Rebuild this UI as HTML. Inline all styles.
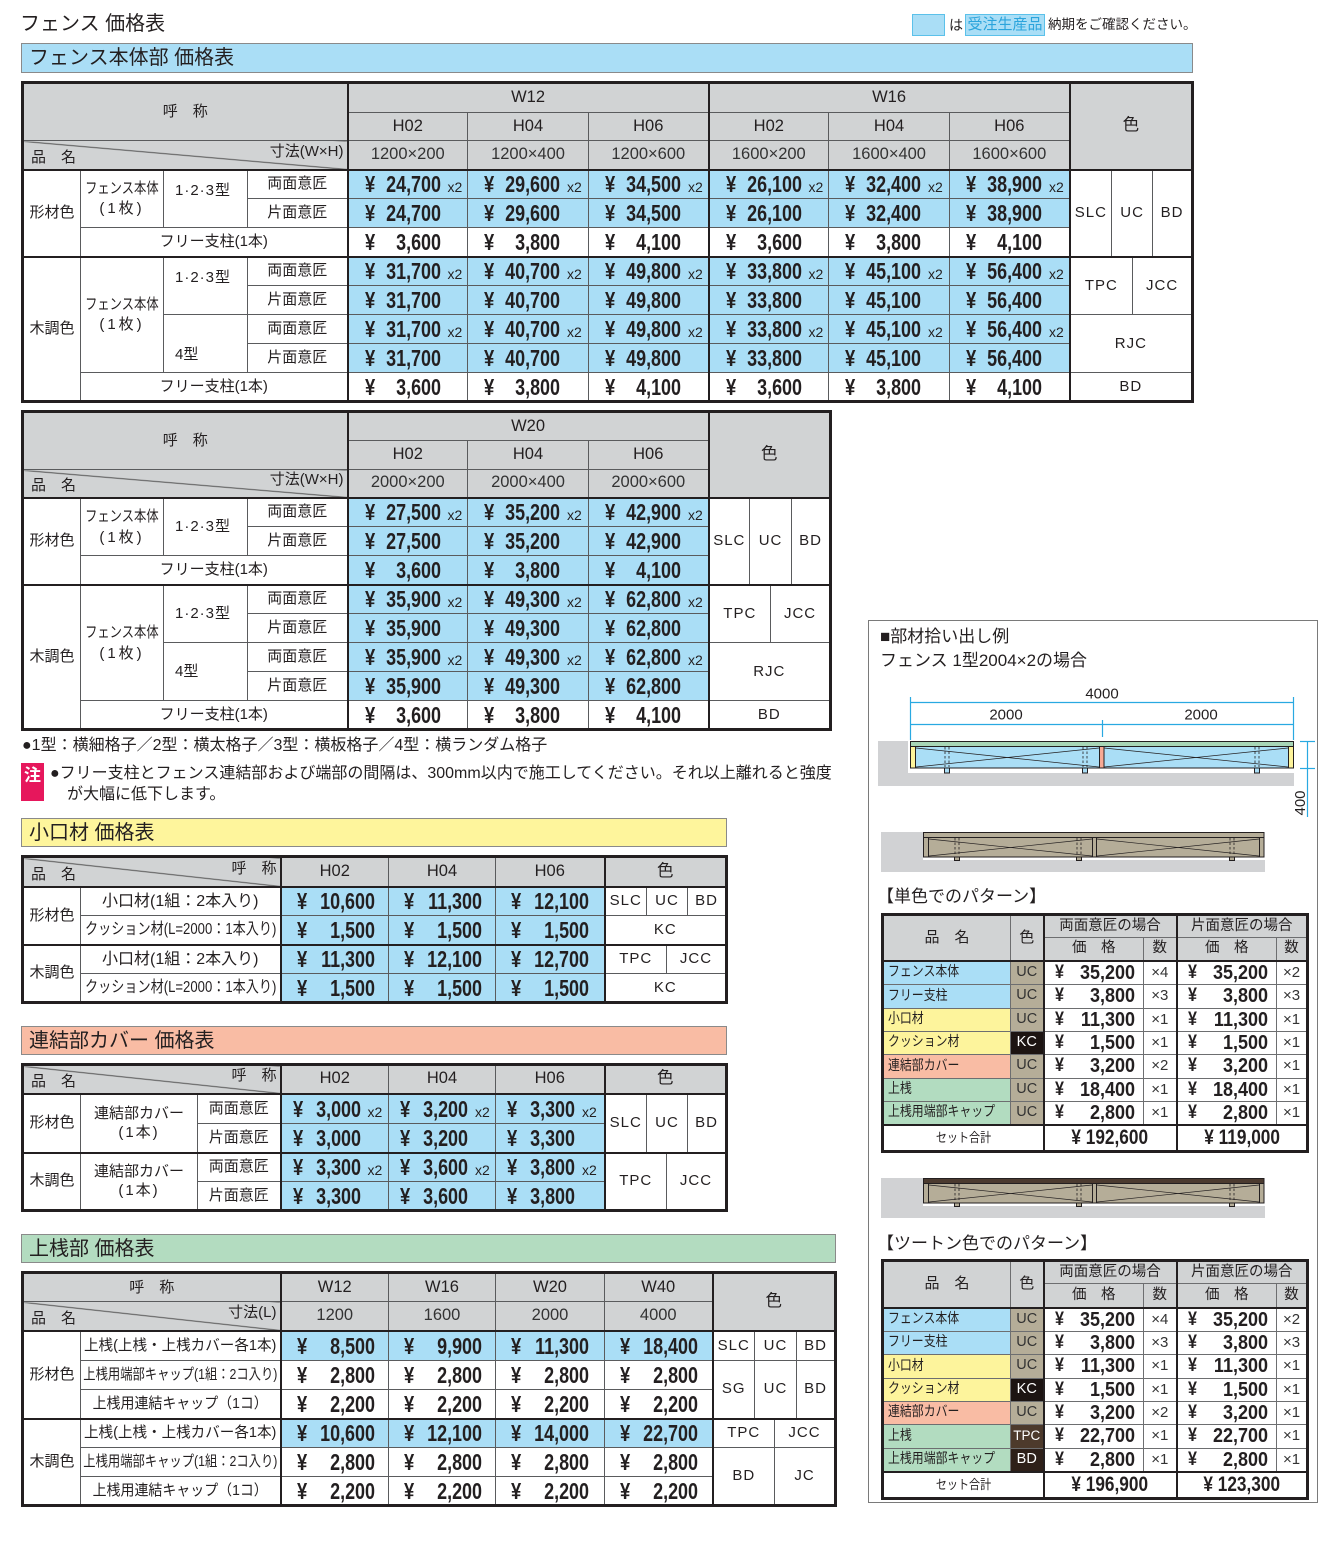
<!DOCTYPE html>
<html><head><meta charset="utf-8">
<style>
body{margin:0;width:1336px;height:1542px;position:relative;overflow:hidden;background:#fff;font-family:"Liberation Sans","Noto Sans CJK JP",sans-serif;color:#231f20}
.a{position:absolute;white-space:nowrap;line-height:1}
.bar{position:absolute;border:1px solid #8a8a8a;font-size:20px;line-height:1;padding-left:7px;box-sizing:border-box;display:flex;align-items:center;white-space:nowrap}
.t{position:absolute;border-collapse:collapse;table-layout:fixed;border:3px solid #231f20}
.t td{border:1px solid #5a5b5d;padding:0;text-align:center;vertical-align:middle;white-space:nowrap;overflow:hidden;font-size:15px;line-height:1.2}
.t td.L2{border-left:2px solid #231f20}
.t tr.T2 td{border-top:2px solid #231f20}
.g{background:#d1d3d4}
.b{background:#aadef6}
.t td.hd{font-size:16.5px}
.t td.dm{font-size:16.5px;color:#333}
.cl{letter-spacing:1px}
.t td.dg{background:linear-gradient(to top right,#d1d3d4 calc(50% - 1px),#555 50%,#d1d3d4 calc(50% + 1px))}
.dgw{position:relative;height:26px}
.dl{position:absolute;left:7px;bottom:3px;line-height:1}
.dr{position:absolute;right:3px;top:2px;line-height:1}
.f{display:flex;justify-content:center}
.f>span{flex:none;display:block}
.pp{position:relative;height:26px}
.pp i,.pp b,.pp u{position:absolute;top:0;font-family:"Liberation Sans",sans-serif;font-style:normal;text-decoration:none;line-height:26px;white-space:nowrap}
.pp i{left:16px;font-weight:bold;font-size:23px;transform:scaleX(.8);transform-origin:0 50%}
.pp b{left:0;width:92px;text-align:right;font-size:23px;transform:scaleX(.78);transform-origin:100% 50%}
.pp u{left:99px;top:3px;font-size:14px}
.s .pp i{left:15px}.s .pp b{width:93px}
.k .pp i{left:11px}.k .pp b{width:79px}.k .pp u{left:86px}
.r td{font-size:14.5px;border-color:#6d6e70}
.r .pp{height:22px}
.r .pp i,.r .pp b{line-height:22px}
.r .pp i{left:10px;font-size:19px;transform:scaleX(.85)}
.r .pp b{width:90px;font-size:20px;transform:scaleX(.9)}
.r td.lb{text-align:left;padding-left:4px}
.r td.q{font-size:15px;color:#333}
.cz{display:inline-block;font-size:14px;transform:scaleX(.85);transform-origin:0 50%}
.tot{font:bold 21px "Liberation Sans",sans-serif;transform:scaleX(.82)}
.cb{background:#aadef6}.cy{background:#fdf49c}.cs{background:#f9bca4}.cg{background:#b2dcc0}
.uc{background:#b5ad98;color:#333}.kc{background:#1c1412;color:#fff}.tpc{background:#4d3a2c;color:#fff}.bdk{background:#2e2019;color:#fff}
.lt{text-align:left!important;padding-left:11px!important}
.dot{letter-spacing:1px}
</style></head><body>

<div class="a" style="left:20px;top:14px;font-size:20px">フェンス 価格表</div>
<div class="a" style="left:912px;top:14px;width:33px;height:22px;background:#aadef6;border:1px solid #5bc1ea;box-sizing:border-box"></div>
<div class="a" style="left:949px;top:18px;font-size:14px">は</div>
<div class="a" style="left:965px;top:14px;width:80px;height:22px;background:#aadef6;border:1px solid #5bc1ea;box-sizing:border-box;color:#2ba4dc;font-size:15px;line-height:20px;text-align:center">受注生産品</div>
<div class="a" style="left:1048px;top:18px;font-size:13.5px">納期をご確認ください。</div>

<div class="bar" style="left:21px;top:43px;width:1172px;height:30px;background:#aadef6">フェンス本体部 価格表</div>

<!-- TABLE 1 -->
<table class="t" style="left:21px;top:81px;width:1170px">
<colgroup><col style="width:58px"><col style="width:83px"><col style="width:84px"><col style="width:100px"><col style="width:120px"><col style="width:121px"><col style="width:120px"><col style="width:120px"><col style="width:121px"><col style="width:120px"><col style="width:42px"><col style="width:21px"><col style="width:20px"><col style="width:40px"></colgroup>
<tr style="height:30px"><td colspan="4" rowspan="2" class="g">呼　称</td><td colspan="3" class="g L2 hd">W12</td><td colspan="3" class="g L2 hd">W16</td><td colspan="4" rowspan="3" class="g L2 hd">色</td></tr>
<tr style="height:28px"><td class="g L2 hd">H02</td><td class="g hd">H04</td><td class="g hd">H06</td><td class="g L2 hd">H02</td><td class="g hd">H04</td><td class="g hd">H06</td></tr>
<tr style="height:29px"><td colspan="4" class="dg"><div class="dgw"><span class="dl">品　名</span><span class="dr">寸法(W×H)</span></div></td><td class="g L2 dm">1200×200</td><td class="g dm">1200×400</td><td class="g dm">1200×600</td><td class="g L2 dm">1600×200</td><td class="g dm">1600×400</td><td class="g dm">1600×600</td></tr>
<tr class="T2" style="height:29px"><td rowspan="3">形材色</td><td rowspan="2" style="line-height:20px"><div class="f"><span style="transform:scaleX(.82)">フェンス本体</span></div><span style="letter-spacing:3px">(1枚)</span></td><td rowspan="2" class="lt dot" style="padding-bottom:16px">1·2·3型</td><td>両面意匠</td>
<td class="b L2"><div class="pp"><i>¥</i><b>24,700</b><u>x2</u></div></td><td class="b"><div class="pp"><i>¥</i><b>29,600</b><u>x2</u></div></td><td class="b"><div class="pp"><i>¥</i><b>34,500</b><u>x2</u></div></td><td class="b L2"><div class="pp"><i>¥</i><b>26,100</b><u>x2</u></div></td><td class="b"><div class="pp"><i>¥</i><b>32,400</b><u>x2</u></div></td><td class="b"><div class="pp"><i>¥</i><b>38,900</b><u>x2</u></div></td>
<td rowspan="3" class="L2 cl">SLC</td><td rowspan="3" colspan="2" class="cl">UC</td><td rowspan="3" class="cl">BD</td></tr>
<tr style="height:29px"><td>片面意匠</td>
<td class="b L2"><div class="pp"><i>¥</i><b>24,700</b></div></td><td class="b"><div class="pp"><i>¥</i><b>29,600</b></div></td><td class="b"><div class="pp"><i>¥</i><b>34,500</b></div></td><td class="b L2"><div class="pp"><i>¥</i><b>26,100</b></div></td><td class="b"><div class="pp"><i>¥</i><b>32,400</b></div></td><td class="b"><div class="pp"><i>¥</i><b>38,900</b></div></td></tr>
<tr style="height:29px"><td colspan="3">フリー支柱(1本)</td>
<td class="L2"><div class="pp"><i>¥</i><b>3,600</b></div></td><td><div class="pp"><i>¥</i><b>3,800</b></div></td><td><div class="pp"><i>¥</i><b>4,100</b></div></td><td class="L2"><div class="pp"><i>¥</i><b>3,600</b></div></td><td><div class="pp"><i>¥</i><b>3,800</b></div></td><td><div class="pp"><i>¥</i><b>4,100</b></div></td></tr>
<tr class="T2" style="height:29px"><td rowspan="5">木調色</td><td rowspan="4" style="line-height:20px"><div class="f"><span style="transform:scaleX(.82)">フェンス本体</span></div><span style="letter-spacing:3px">(1枚)</span></td><td rowspan="2" class="lt dot" style="padding-bottom:16px">1·2·3型</td><td>両面意匠</td>
<td class="b L2"><div class="pp"><i>¥</i><b>31,700</b><u>x2</u></div></td><td class="b"><div class="pp"><i>¥</i><b>40,700</b><u>x2</u></div></td><td class="b"><div class="pp"><i>¥</i><b>49,800</b><u>x2</u></div></td><td class="b L2"><div class="pp"><i>¥</i><b>33,800</b><u>x2</u></div></td><td class="b"><div class="pp"><i>¥</i><b>45,100</b><u>x2</u></div></td><td class="b"><div class="pp"><i>¥</i><b>56,400</b><u>x2</u></div></td>
<td rowspan="2" colspan="2" class="L2 cl">TPC</td><td rowspan="2" colspan="2" class="cl">JCC</td></tr>
<tr style="height:29px"><td>片面意匠</td>
<td class="b L2"><div class="pp"><i>¥</i><b>31,700</b></div></td><td class="b"><div class="pp"><i>¥</i><b>40,700</b></div></td><td class="b"><div class="pp"><i>¥</i><b>49,800</b></div></td><td class="b L2"><div class="pp"><i>¥</i><b>33,800</b></div></td><td class="b"><div class="pp"><i>¥</i><b>45,100</b></div></td><td class="b"><div class="pp"><i>¥</i><b>56,400</b></div></td></tr>
<tr style="height:29px"><td rowspan="2" class="lt" style="padding-top:22px">4型</td><td>両面意匠</td>
<td class="b L2"><div class="pp"><i>¥</i><b>31,700</b><u>x2</u></div></td><td class="b"><div class="pp"><i>¥</i><b>40,700</b><u>x2</u></div></td><td class="b"><div class="pp"><i>¥</i><b>49,800</b><u>x2</u></div></td><td class="b L2"><div class="pp"><i>¥</i><b>33,800</b><u>x2</u></div></td><td class="b"><div class="pp"><i>¥</i><b>45,100</b><u>x2</u></div></td><td class="b"><div class="pp"><i>¥</i><b>56,400</b><u>x2</u></div></td>
<td rowspan="2" colspan="4" class="L2 cl">RJC</td></tr>
<tr style="height:29px"><td>片面意匠</td>
<td class="b L2"><div class="pp"><i>¥</i><b>31,700</b></div></td><td class="b"><div class="pp"><i>¥</i><b>40,700</b></div></td><td class="b"><div class="pp"><i>¥</i><b>49,800</b></div></td><td class="b L2"><div class="pp"><i>¥</i><b>33,800</b></div></td><td class="b"><div class="pp"><i>¥</i><b>45,100</b></div></td><td class="b"><div class="pp"><i>¥</i><b>56,400</b></div></td></tr>
<tr style="height:29px"><td colspan="3">フリー支柱(1本)</td>
<td class="L2"><div class="pp"><i>¥</i><b>3,600</b></div></td><td><div class="pp"><i>¥</i><b>3,800</b></div></td><td><div class="pp"><i>¥</i><b>4,100</b></div></td><td class="L2"><div class="pp"><i>¥</i><b>3,600</b></div></td><td><div class="pp"><i>¥</i><b>3,800</b></div></td><td><div class="pp"><i>¥</i><b>4,100</b></div></td>
<td colspan="4" class="L2 cl">BD</td></tr>
</table>

<!-- TABLE 2 -->
<table class="t" style="left:21px;top:410px;width:808px">
<colgroup><col style="width:58px"><col style="width:83px"><col style="width:84px"><col style="width:100px"><col style="width:120px"><col style="width:121px"><col style="width:120px"><col style="width:41px"><col style="width:21px"><col style="width:21px"><col style="width:39px"></colgroup>
<tr style="height:29px"><td colspan="4" rowspan="2" class="g">呼　称</td><td colspan="3" class="g L2 hd">W20</td><td colspan="4" rowspan="3" class="g L2 hd">色</td></tr>
<tr style="height:29px"><td class="g L2 hd">H02</td><td class="g hd">H04</td><td class="g hd">H06</td></tr>
<tr style="height:28px"><td colspan="4" class="dg"><div class="dgw"><span class="dl">品　名</span><span class="dr">寸法(W×H)</span></div></td><td class="g L2 dm">2000×200</td><td class="g dm">2000×400</td><td class="g dm">2000×600</td></tr>
<tr class="T2" style="height:29px"><td rowspan="3">形材色</td><td rowspan="2" style="line-height:21px"><div class="f"><span style="transform:scaleX(.82)">フェンス本体</span></div><span style="letter-spacing:3px">(1枚)</span></td><td rowspan="2" class="lt dot">1·2·3型</td><td>両面意匠</td>
<td class="b L2"><div class="pp"><i>¥</i><b>27,500</b><u>x2</u></div></td><td class="b"><div class="pp"><i>¥</i><b>35,200</b><u>x2</u></div></td><td class="b"><div class="pp"><i>¥</i><b>42,900</b><u>x2</u></div></td>
<td rowspan="3" class="L2 cl">SLC</td><td rowspan="3" colspan="2" class="cl">UC</td><td rowspan="3" class="cl">BD</td></tr>
<tr style="height:29px"><td>片面意匠</td>
<td class="b L2"><div class="pp"><i>¥</i><b>27,500</b></div></td><td class="b"><div class="pp"><i>¥</i><b>35,200</b></div></td><td class="b"><div class="pp"><i>¥</i><b>42,900</b></div></td></tr>
<tr style="height:29px"><td colspan="3">フリー支柱(1本)</td>
<td class="b L2"><div class="pp"><i>¥</i><b>3,600</b></div></td><td class="b"><div class="pp"><i>¥</i><b>3,800</b></div></td><td class="b"><div class="pp"><i>¥</i><b>4,100</b></div></td></tr>
<tr class="T2" style="height:29px"><td rowspan="5">木調色</td><td rowspan="4" style="line-height:21px"><div class="f"><span style="transform:scaleX(.82)">フェンス本体</span></div><span style="letter-spacing:3px">(1枚)</span></td><td rowspan="2" class="lt dot">1·2·3型</td><td>両面意匠</td>
<td class="b L2"><div class="pp"><i>¥</i><b>35,900</b><u>x2</u></div></td><td class="b"><div class="pp"><i>¥</i><b>49,300</b><u>x2</u></div></td><td class="b"><div class="pp"><i>¥</i><b>62,800</b><u>x2</u></div></td>
<td rowspan="2" colspan="2" class="L2 cl">TPC</td><td rowspan="2" colspan="2" class="cl">JCC</td></tr>
<tr style="height:29px"><td>片面意匠</td>
<td class="b L2"><div class="pp"><i>¥</i><b>35,900</b></div></td><td class="b"><div class="pp"><i>¥</i><b>49,300</b></div></td><td class="b"><div class="pp"><i>¥</i><b>62,800</b></div></td></tr>
<tr style="height:29px"><td rowspan="2" class="lt">4型</td><td>両面意匠</td>
<td class="b L2"><div class="pp"><i>¥</i><b>35,900</b><u>x2</u></div></td><td class="b"><div class="pp"><i>¥</i><b>49,300</b><u>x2</u></div></td><td class="b"><div class="pp"><i>¥</i><b>62,800</b><u>x2</u></div></td>
<td rowspan="2" colspan="4" class="L2 cl">RJC</td></tr>
<tr style="height:29px"><td>片面意匠</td>
<td class="b L2"><div class="pp"><i>¥</i><b>35,900</b></div></td><td class="b"><div class="pp"><i>¥</i><b>49,300</b></div></td><td class="b"><div class="pp"><i>¥</i><b>62,800</b></div></td></tr>
<tr style="height:29px"><td colspan="3">フリー支柱(1本)</td>
<td class="L2"><div class="pp"><i>¥</i><b>3,600</b></div></td><td><div class="pp"><i>¥</i><b>3,800</b></div></td><td><div class="pp"><i>¥</i><b>4,100</b></div></td>
<td colspan="4" class="L2 cl">BD</td></tr>
</table>

<div class="a" style="left:22px;top:738px;font-size:16px">●1型：横細格子／2型：横太格子／3型：横板格子／4型：横ランダム格子</div>
<div class="a" style="left:21px;top:763px;width:23px;height:38px;background:#e6175c;color:#fff;font-size:17px;font-weight:bold;text-align:center;padding-top:4px;box-sizing:border-box">注</div>
<div class="a" style="left:50px;top:766px;font-size:16px">●フリー支柱とフェンス連結部および端部の間隔は、300mm以内で施工してください。それ以上離れると強度</div>
<div class="a" style="left:67px;top:787px;font-size:16px">が大幅に低下します。</div>

<div class="bar" style="left:21px;top:818px;width:706px;height:29px;background:#fef59c">小口材 価格表</div>

<!-- TABLE 3 -->
<table class="t s" style="left:21px;top:855px;width:704px">
<colgroup><col style="width:58px"><col style="width:200px"><col style="width:108px"><col style="width:107px"><col style="width:109px"><col style="width:42px"><col style="width:20px"><col style="width:21px"><col style="width:39px"></colgroup>
<tr style="height:30px"><td colspan="2" class="dg"><div class="dgw"><span class="dl">品　名</span><span class="dr">呼　称</span></div></td><td class="g L2 hd">H02</td><td class="g hd">H04</td><td class="g hd">H06</td><td colspan="4" class="g L2 hd">色</td></tr>
<tr class="T2" style="height:29px"><td rowspan="2">形材色</td><td style="font-size:16px">小口材(1組：2本入り)</td>
<td class="b L2"><div class="pp"><i>¥</i><b>10,600</b></div></td><td class="b"><div class="pp"><i>¥</i><b>11,300</b></div></td><td class="b"><div class="pp"><i>¥</i><b>12,100</b></div></td>
<td class="L2 cl">SLC</td><td colspan="2" class="cl">UC</td><td class="cl">BD</td></tr>
<tr style="height:29px"><td><div class="f"><span style="font-size:16px;transform:scaleX(.82)">クッション材(L=2000：1本入り)</span></div></td>
<td class="b L2"><div class="pp"><i>¥</i><b>1,500</b></div></td><td class="b"><div class="pp"><i>¥</i><b>1,500</b></div></td><td class="b"><div class="pp"><i>¥</i><b>1,500</b></div></td>
<td colspan="4" class="L2 cl">KC</td></tr>
<tr class="T2" style="height:29px"><td rowspan="2">木調色</td><td style="font-size:16px">小口材(1組：2本入り)</td>
<td class="b L2"><div class="pp"><i>¥</i><b>11,300</b></div></td><td class="b"><div class="pp"><i>¥</i><b>12,100</b></div></td><td class="b"><div class="pp"><i>¥</i><b>12,700</b></div></td>
<td colspan="2" class="L2 cl">TPC</td><td colspan="2" class="cl">JCC</td></tr>
<tr style="height:29px"><td><div class="f"><span style="font-size:16px;transform:scaleX(.82)">クッション材(L=2000：1本入り)</span></div></td>
<td class="b L2"><div class="pp"><i>¥</i><b>1,500</b></div></td><td class="b"><div class="pp"><i>¥</i><b>1,500</b></div></td><td class="b"><div class="pp"><i>¥</i><b>1,500</b></div></td>
<td colspan="4" class="L2 cl">KC</td></tr>
</table>

<div class="bar" style="left:21px;top:1026px;width:706px;height:29px;background:#f9bca4">連結部カバー 価格表</div>

<!-- TABLE 4 -->
<table class="t k" style="left:21px;top:1063px;width:704px">
<colgroup><col style="width:58px"><col style="width:117px"><col style="width:83px"><col style="width:108px"><col style="width:107px"><col style="width:109px"><col style="width:42px"><col style="width:20px"><col style="width:21px"><col style="width:39px"></colgroup>
<tr style="height:29px"><td colspan="3" class="dg"><div class="dgw"><span class="dl">品　名</span><span class="dr">呼　称</span></div></td><td class="g L2 hd">H02</td><td class="g hd">H04</td><td class="g hd">H06</td><td colspan="4" class="g L2 hd">色</td></tr>
<tr class="T2" style="height:30px"><td rowspan="2">形材色</td><td rowspan="2" style="line-height:19px">連結部カバー<br><span style="letter-spacing:2px">(1本)</span></td><td>両面意匠</td>
<td class="b L2"><div class="pp"><i>¥</i><b>3,000</b><u>x2</u></div></td><td class="b"><div class="pp"><i>¥</i><b>3,200</b><u>x2</u></div></td><td class="b"><div class="pp"><i>¥</i><b>3,300</b><u>x2</u></div></td>
<td rowspan="2" class="L2 cl">SLC</td><td rowspan="2" colspan="2" class="cl">UC</td><td rowspan="2" class="cl">BD</td></tr>
<tr style="height:29px"><td>片面意匠</td>
<td class="b L2"><div class="pp"><i>¥</i><b>3,000</b></div></td><td class="b"><div class="pp"><i>¥</i><b>3,200</b></div></td><td class="b"><div class="pp"><i>¥</i><b>3,300</b></div></td></tr>
<tr class="T2" style="height:29px"><td rowspan="2">木調色</td><td rowspan="2" style="line-height:19px">連結部カバー<br><span style="letter-spacing:2px">(1本)</span></td><td>両面意匠</td>
<td class="b L2"><div class="pp"><i>¥</i><b>3,300</b><u>x2</u></div></td><td class="b"><div class="pp"><i>¥</i><b>3,600</b><u>x2</u></div></td><td class="b"><div class="pp"><i>¥</i><b>3,800</b><u>x2</u></div></td>
<td rowspan="2" colspan="2" class="L2 cl">TPC</td><td rowspan="2" colspan="2" class="cl">JCC</td></tr>
<tr style="height:29px"><td>片面意匠</td>
<td class="b L2"><div class="pp"><i>¥</i><b>3,300</b></div></td><td class="b"><div class="pp"><i>¥</i><b>3,600</b></div></td><td class="b"><div class="pp"><i>¥</i><b>3,800</b></div></td></tr>
</table>

<div class="bar" style="left:21px;top:1234px;width:815px;height:29px;background:#b3dcc0">上桟部 価格表</div>

<!-- TABLE 5 -->
<table class="t s" style="left:21px;top:1271px;width:813px">
<colgroup><col style="width:58px"><col style="width:200px"><col style="width:108px"><col style="width:107px"><col style="width:109px"><col style="width:108px"><col style="width:42px"><col style="width:20px"><col style="width:22px"><col style="width:39px"></colgroup>
<tr style="height:29px"><td colspan="2" class="g">呼　称</td><td class="g L2 hd">W12</td><td class="g hd">W16</td><td class="g hd">W20</td><td class="g hd">W40</td><td colspan="4" rowspan="2" class="g L2 hd">色</td></tr>
<tr style="height:29px"><td colspan="2" class="dg"><div class="dgw"><span class="dl">品　名</span><span class="dr">寸法(L)</span></div></td><td class="g L2 dm">1200</td><td class="g dm">1600</td><td class="g dm">2000</td><td class="g dm">4000</td></tr>
<tr class="T2" style="height:30px"><td rowspan="3">形材色</td><td><div class="f"><span style="transform:scaleX(.97)">上桟(上桟・上桟カバー各1本)</span></div></td>
<td class="b L2"><div class="pp"><i>¥</i><b>8,500</b></div></td><td class="b"><div class="pp"><i>¥</i><b>9,900</b></div></td><td class="b"><div class="pp"><i>¥</i><b>11,300</b></div></td><td class="b"><div class="pp"><i>¥</i><b>18,400</b></div></td>
<td class="L2 cl">SLC</td><td colspan="2" class="cl">UC</td><td class="cl">BD</td></tr>
<tr style="height:29px"><td><div class="f"><span style="transform:scaleX(.82)">上桟用端部キャップ(1組：2コ入り)</span></div></td>
<td class="L2"><div class="pp"><i>¥</i><b>2,800</b></div></td><td><div class="pp"><i>¥</i><b>2,800</b></div></td><td><div class="pp"><i>¥</i><b>2,800</b></div></td><td><div class="pp"><i>¥</i><b>2,800</b></div></td>
<td rowspan="2" class="L2 cl">SG</td><td rowspan="2" colspan="2" class="cl">UC</td><td rowspan="2" class="cl">BD</td></tr>
<tr style="height:29px"><td><div class="f"><span style="transform:scaleX(.93)">上桟用連結キャップ（1コ）</span></div></td>
<td class="L2"><div class="pp"><i>¥</i><b>2,200</b></div></td><td><div class="pp"><i>¥</i><b>2,200</b></div></td><td><div class="pp"><i>¥</i><b>2,200</b></div></td><td><div class="pp"><i>¥</i><b>2,200</b></div></td></tr>
<tr class="T2" style="height:29px"><td rowspan="3">木調色</td><td><div class="f"><span style="transform:scaleX(.97)">上桟(上桟・上桟カバー各1本)</span></div></td>
<td class="b L2"><div class="pp"><i>¥</i><b>10,600</b></div></td><td class="b"><div class="pp"><i>¥</i><b>12,100</b></div></td><td class="b"><div class="pp"><i>¥</i><b>14,000</b></div></td><td class="b"><div class="pp"><i>¥</i><b>22,700</b></div></td>
<td colspan="2" class="L2 cl">TPC</td><td colspan="2" class="cl">JCC</td></tr>
<tr style="height:29px"><td><div class="f"><span style="transform:scaleX(.82)">上桟用端部キャップ(1組：2コ入り)</span></div></td>
<td class="L2"><div class="pp"><i>¥</i><b>2,800</b></div></td><td><div class="pp"><i>¥</i><b>2,800</b></div></td><td><div class="pp"><i>¥</i><b>2,800</b></div></td><td><div class="pp"><i>¥</i><b>2,800</b></div></td>
<td rowspan="2" colspan="2" class="L2 cl">BD</td><td rowspan="2" colspan="2" class="cl">JC</td></tr>
<tr style="height:29px"><td><div class="f"><span style="transform:scaleX(.93)">上桟用連結キャップ（1コ）</span></div></td>
<td class="L2"><div class="pp"><i>¥</i><b>2,200</b></div></td><td><div class="pp"><i>¥</i><b>2,200</b></div></td><td><div class="pp"><i>¥</i><b>2,200</b></div></td><td><div class="pp"><i>¥</i><b>2,200</b></div></td></tr>
</table>

<!-- RIGHT PANEL -->
<div class="a" style="left:868px;top:620px;width:450px;height:883px;border:1px solid #7a7a7a;box-sizing:border-box"></div>
<div class="a" style="left:880px;top:628px;font-size:17px">■部材拾い出し例</div>
<div class="a" style="left:880px;top:652px;font-size:17px">フェンス 1型2004×2の場合</div>

<svg style="position:absolute;left:869px;top:620px" width="449" height="884" viewBox="869 620 449 884" font-family="Liberation Sans, sans-serif">
<g stroke="#29a9e1" stroke-width="1.2" fill="none">
<line x1="910" y1="702.5" x2="1294" y2="702.5"/>
<line x1="910" y1="724.5" x2="1294" y2="724.5"/>
<line x1="910.5" y1="697" x2="910.5" y2="740"/>
<line x1="1293.5" y1="697" x2="1293.5" y2="740"/>
<line x1="1102.5" y1="720" x2="1102.5" y2="737"/>
<line x1="1307.5" y1="741" x2="1307.5" y2="817"/>
<line x1="1300" y1="741.5" x2="1315" y2="741.5"/>
<line x1="1300" y1="768.5" x2="1315" y2="768.5"/>
</g>
<g font-size="15" fill="#231f20" text-anchor="middle">
<text x="1102" y="698.5">4000</text>
<text x="1006" y="719.5">2000</text>
<text x="1201" y="719.5">2000</text>
<text transform="translate(1305,803) rotate(-90)">400</text>
</g>
<rect x="878" y="741" width="416" height="45" fill="#d1d2d4"/>
<rect x="908" y="741" width="386" height="32" fill="#fff"/>
<g stroke="#231f20" stroke-width="1">
<rect x="944.5" y="767" width="5" height="6" fill="#aadef6"/>
<rect x="1082.5" y="767" width="5" height="6" fill="#aadef6"/>
<rect x="1254.5" y="767" width="5" height="6" fill="#aadef6"/>
<rect x="910.5" y="746.5" width="383" height="21.5" fill="#aadef6"/>
<rect x="910.5" y="741.5" width="383" height="5" fill="#a8d6b7"/>
<rect x="910.5" y="746.5" width="5" height="21.5" fill="#fdf39a"/>
<rect x="1288.5" y="746.5" width="5" height="21.5" fill="#fdf39a"/>
<rect x="1099.5" y="746.5" width="4.5" height="21.5" fill="#f7a994"/>
</g>
<g stroke="#231f20" stroke-width=".7">
<line x1="916" y1="748" x2="1099" y2="767"/><line x1="916" y1="767" x2="1099" y2="748"/>
<line x1="1104" y1="748" x2="1288" y2="767"/><line x1="1104" y1="767" x2="1288" y2="748"/>
</g>
<g stroke="#231f20" stroke-width=".8" stroke-dasharray="2.5,2">
<line x1="945" y1="747" x2="945" y2="767"/><line x1="949" y1="747" x2="949" y2="767"/>
<line x1="1083" y1="747" x2="1083" y2="767"/><line x1="1087" y1="747" x2="1087" y2="767"/>
<line x1="1255" y1="747" x2="1255" y2="767"/><line x1="1259" y1="747" x2="1259" y2="767"/>
</g>

<rect x="881" y="832" width="384" height="40" fill="#d1d2d4"/>
<rect x="923" y="832" width="342" height="28" fill="#fff"/>
<g stroke="#231f20" stroke-width="1" fill="#b5ad98">
<rect x="954.5" y="856" width="5" height="4.5"/><rect x="1076.5" y="856" width="5" height="4.5"/><rect x="1229.5" y="856" width="5" height="4.5"/>
<rect x="923.5" y="832.5" width="340.5" height="24.5"/>
<line x1="923.5" y1="837.5" x2="1264" y2="837.5"/>
<line x1="928.5" y1="837.5" x2="928.5" y2="857"/><line x1="1092.5" y1="837.5" x2="1092.5" y2="857"/>
<line x1="1096.5" y1="837.5" x2="1096.5" y2="857"/><line x1="1259.5" y1="837.5" x2="1259.5" y2="857"/>
</g>
<g stroke="#231f20" stroke-width=".7">
<line x1="929" y1="839" x2="1092" y2="856"/><line x1="929" y1="856" x2="1092" y2="839"/>
<line x1="1097" y1="839" x2="1259" y2="856"/><line x1="1097" y1="856" x2="1259" y2="839"/>
</g>
<g stroke="#231f20" stroke-width=".8" stroke-dasharray="2.5,2">
<line x1="955" y1="838" x2="955" y2="856"/><line x1="959" y1="838" x2="959" y2="856"/>
<line x1="1077" y1="838" x2="1077" y2="856"/><line x1="1081" y1="838" x2="1081" y2="856"/>
<line x1="1230" y1="838" x2="1230" y2="856"/><line x1="1234" y1="838" x2="1234" y2="856"/>
</g>

<rect x="881" y="1178" width="384" height="40" fill="#d1d2d4"/>
<rect x="923" y="1178" width="342" height="28" fill="#fff"/>
<g stroke="#231f20" stroke-width="1" fill="#b5ad98">
<rect x="954.5" y="1202" width="5" height="4.5"/><rect x="1076.5" y="1202" width="5" height="4.5"/><rect x="1229.5" y="1202" width="5" height="4.5"/>
<rect x="923.5" y="1178.5" width="340.5" height="24.5"/>
<rect x="923.5" y="1178.5" width="340.5" height="5" fill="#4b3a2f"/>
<line x1="928.5" y1="1183.5" x2="928.5" y2="1203"/><line x1="1092.5" y1="1183.5" x2="1092.5" y2="1203"/>
<line x1="1096.5" y1="1183.5" x2="1096.5" y2="1203"/><line x1="1259.5" y1="1183.5" x2="1259.5" y2="1203"/>
</g>
<g stroke="#231f20" stroke-width=".7">
<line x1="929" y1="1185" x2="1092" y2="1202"/><line x1="929" y1="1202" x2="1092" y2="1185"/>
<line x1="1097" y1="1185" x2="1259" y2="1202"/><line x1="1097" y1="1202" x2="1259" y2="1185"/>
</g>
<g stroke="#231f20" stroke-width=".8" stroke-dasharray="2.5,2">
<line x1="955" y1="1184" x2="955" y2="1202"/><line x1="959" y1="1184" x2="959" y2="1202"/>
<line x1="1077" y1="1184" x2="1077" y2="1202"/><line x1="1081" y1="1184" x2="1081" y2="1202"/>
<line x1="1230" y1="1184" x2="1230" y2="1202"/><line x1="1234" y1="1184" x2="1234" y2="1202"/>
</g>
</svg>

<div class="a" style="left:877px;top:888px;font-size:17px">【単色でのパターン】</div>

<table class="t r" style="left:881px;top:913px;width:425px">
<colgroup><col style="width:128px"><col style="width:33px"><col style="width:100px"><col style="width:33px"><col style="width:100px"><col style="width:31px"></colgroup>
<tr style="height:23px"><td rowspan="2" class="g" style="font-size:15px">品　名</td><td rowspan="2" class="g" style="font-size:15px">色</td><td colspan="2" class="g L2">両面意匠の場合</td><td colspan="2" class="g L2">片面意匠の場合</td></tr>
<tr style="height:23px"><td class="g L2">価　格</td><td class="g">数</td><td class="g L2">価　格</td><td class="g">数</td></tr>
<tr class="T2" style="height:23px"><td class="lb cb"><span class="cz">フェンス本体</span></td><td class="uc">UC</td><td class="L2"><div class="pp"><i>¥</i><b>35,200</b></div></td><td class="q">×4</td><td class="L2"><div class="pp"><i>¥</i><b>35,200</b></div></td><td class="q">×2</td></tr>
<tr style="height:24px"><td class="lb cb"><span class="cz">フリー支柱</span></td><td class="uc">UC</td><td class="L2"><div class="pp"><i>¥</i><b>3,800</b></div></td><td class="q">×3</td><td class="L2"><div class="pp"><i>¥</i><b>3,800</b></div></td><td class="q">×3</td></tr>
<tr style="height:23px"><td class="lb cy"><span class="cz">小口材</span></td><td class="uc">UC</td><td class="L2"><div class="pp"><i>¥</i><b>11,300</b></div></td><td class="q">×1</td><td class="L2"><div class="pp"><i>¥</i><b>11,300</b></div></td><td class="q">×1</td></tr>
<tr style="height:23px"><td class="lb cy"><span class="cz">クッション材</span></td><td class="kc">KC</td><td class="L2"><div class="pp"><i>¥</i><b>1,500</b></div></td><td class="q">×1</td><td class="L2"><div class="pp"><i>¥</i><b>1,500</b></div></td><td class="q">×1</td></tr>
<tr style="height:24px"><td class="lb cs"><span class="cz">連結部カバー</span></td><td class="uc">UC</td><td class="L2"><div class="pp"><i>¥</i><b>3,200</b></div></td><td class="q">×2</td><td class="L2"><div class="pp"><i>¥</i><b>3,200</b></div></td><td class="q">×1</td></tr>
<tr style="height:23px"><td class="lb cg"><span class="cz">上桟</span></td><td class="uc">UC</td><td class="L2"><div class="pp"><i>¥</i><b>18,400</b></div></td><td class="q">×1</td><td class="L2"><div class="pp"><i>¥</i><b>18,400</b></div></td><td class="q">×1</td></tr>
<tr style="height:23px"><td class="lb cg"><span class="cz">上桟用端部キャップ</span></td><td class="uc">UC</td><td class="L2"><div class="pp"><i>¥</i><b>2,800</b></div></td><td class="q">×1</td><td class="L2"><div class="pp"><i>¥</i><b>2,800</b></div></td><td class="q">×1</td></tr>
<tr class="T2" style="height:24px"><td colspan="2"><div class="f"><span style="font-size:13px;transform:scaleX(.85)">セット合計</span></div></td><td colspan="2" class="L2"><div class="f"><span class="tot">¥ 192,600</span></div></td><td colspan="2" class="L2"><div class="f"><span class="tot">¥ 119,000</span></div></td></tr>
</table>

<div class="a" style="left:877px;top:1235px;font-size:17px">【ツートン色でのパターン】</div>

<table class="t r" style="left:881px;top:1259px;width:425px">
<colgroup><col style="width:128px"><col style="width:33px"><col style="width:100px"><col style="width:33px"><col style="width:100px"><col style="width:31px"></colgroup>
<tr style="height:23px"><td rowspan="2" class="g" style="font-size:15px">品　名</td><td rowspan="2" class="g" style="font-size:15px">色</td><td colspan="2" class="g L2">両面意匠の場合</td><td colspan="2" class="g L2">片面意匠の場合</td></tr>
<tr style="height:24px"><td class="g L2">価　格</td><td class="g">数</td><td class="g L2">価　格</td><td class="g">数</td></tr>
<tr class="T2" style="height:23px"><td class="lb cb"><span class="cz">フェンス本体</span></td><td class="uc">UC</td><td class="L2"><div class="pp"><i>¥</i><b>35,200</b></div></td><td class="q">×4</td><td class="L2"><div class="pp"><i>¥</i><b>35,200</b></div></td><td class="q">×2</td></tr>
<tr style="height:23px"><td class="lb cb"><span class="cz">フリー支柱</span></td><td class="uc">UC</td><td class="L2"><div class="pp"><i>¥</i><b>3,800</b></div></td><td class="q">×3</td><td class="L2"><div class="pp"><i>¥</i><b>3,800</b></div></td><td class="q">×3</td></tr>
<tr style="height:24px"><td class="lb cy"><span class="cz">小口材</span></td><td class="uc">UC</td><td class="L2"><div class="pp"><i>¥</i><b>11,300</b></div></td><td class="q">×1</td><td class="L2"><div class="pp"><i>¥</i><b>11,300</b></div></td><td class="q">×1</td></tr>
<tr style="height:23px"><td class="lb cy"><span class="cz">クッション材</span></td><td class="kc">KC</td><td class="L2"><div class="pp"><i>¥</i><b>1,500</b></div></td><td class="q">×1</td><td class="L2"><div class="pp"><i>¥</i><b>1,500</b></div></td><td class="q">×1</td></tr>
<tr style="height:23px"><td class="lb cs"><span class="cz">連結部カバー</span></td><td class="uc">UC</td><td class="L2"><div class="pp"><i>¥</i><b>3,200</b></div></td><td class="q">×2</td><td class="L2"><div class="pp"><i>¥</i><b>3,200</b></div></td><td class="q">×1</td></tr>
<tr style="height:24px"><td class="lb cg"><span class="cz">上桟</span></td><td class="tpc" style="font-size:13.5px">TPC</td><td class="L2"><div class="pp"><i>¥</i><b>22,700</b></div></td><td class="q">×1</td><td class="L2"><div class="pp"><i>¥</i><b>22,700</b></div></td><td class="q">×1</td></tr>
<tr style="height:23px"><td class="lb cg"><span class="cz">上桟用端部キャップ</span></td><td class="bdk">BD</td><td class="L2"><div class="pp"><i>¥</i><b>2,800</b></div></td><td class="q">×1</td><td class="L2"><div class="pp"><i>¥</i><b>2,800</b></div></td><td class="q">×1</td></tr>
<tr class="T2" style="height:23px"><td colspan="2"><div class="f"><span style="font-size:13px;transform:scaleX(.85)">セット合計</span></div></td><td colspan="2" class="L2"><div class="f"><span class="tot">¥ 196,900</span></div></td><td colspan="2" class="L2"><div class="f"><span class="tot">¥ 123,300</span></div></td></tr>
</table>

</body></html>
